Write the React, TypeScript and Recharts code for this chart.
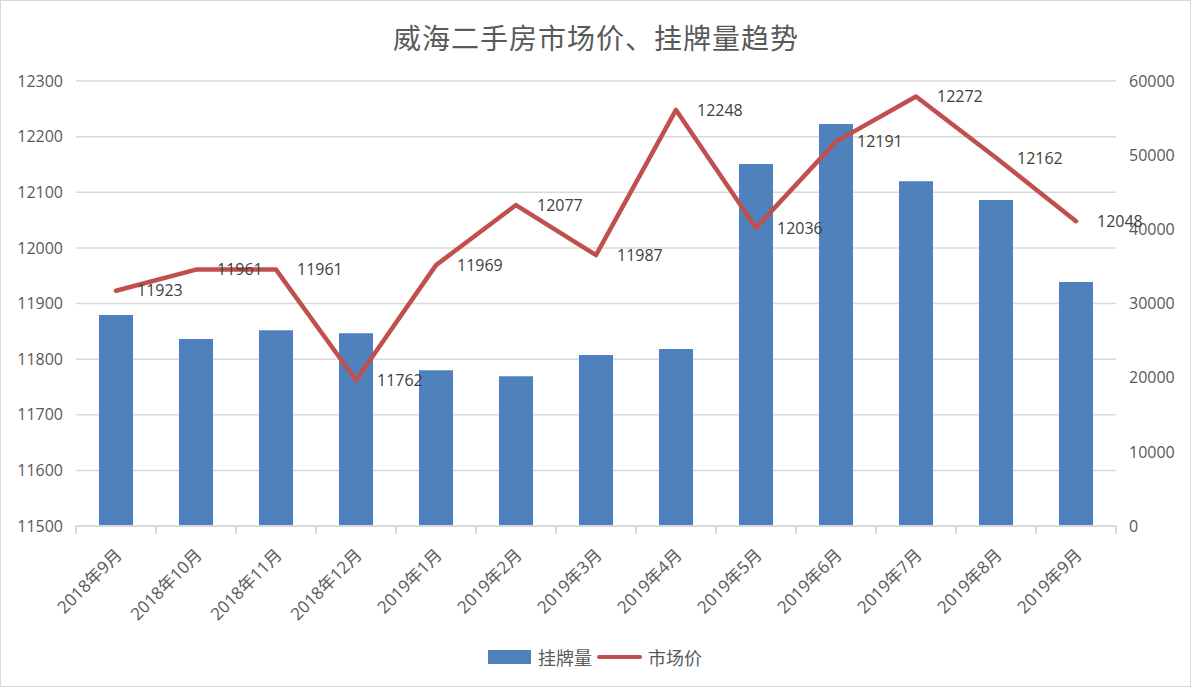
import React from 'react';
import { ComposedChart, Bar, Line, XAxis, YAxis, CartesianGrid, LabelList } from 'recharts';

const categories = [
  '2018年9月', '2018年10月', '2018年11月', '2018年12月', '2019年1月', '2019年2月', '2019年3月',
  '2019年4月', '2019年5月', '2019年6月', '2019年7月', '2019年8月', '2019年9月',
];
const listingCount = [28450, 25200, 26400, 26000, 21000, 20200, 23050, 23850, 48800, 54200, 46500, 43950, 32900];
const marketPrice = [11923, 11961, 11961, 11762, 11969, 12077, 11987, 12248, 12036, 12191, 12272, 12162, 12048];
const priceTicks = [11500, 11600, 11700, 11800, 11900, 12000, 12100, 12200, 12300];
const countTicks = [0, 10000, 20000, 30000, 40000, 50000, 60000];

const title = '威海二手房市场价、挂牌量趋势';
const barName = '挂牌量';
const lineName = '市场价';

const data = categories.map((c, i) => ({ month: c, count: listingCount[i], price: marketPrice[i] }));

const NUM_FONT = "'Open Sans', 'Noto Sans CJK SC', sans-serif";
const CJK_FONT = "'Noto Sans CJK SC', 'Open Sans', sans-serif";
const AXIS_COLOR = '#595959';
const GRID_COLOR = '#D9D9D9';
const BAR_COLOR = '#4F81BD';
const LINE_COLOR = '#C0504D';

const XTick = (props: any) => {
  const { x, y, payload, index, width, visibleTicksCount } = props;
  const half = width && visibleTicksCount ? width / visibleTicksCount / 2 : 40;
  const last = index === (visibleTicksCount ?? 13) - 1;
  return (
    <g>
      <line x1={x - half} x2={x - half} y1={y} y2={y + 8} stroke={GRID_COLOR} strokeWidth={2} />
      {last && <line x1={x + half} x2={x + half} y1={y} y2={y + 8} stroke={GRID_COLOR} strokeWidth={2} />}
      <text
        x={x + 7}
        y={y + 30}
        transform={`rotate(-45, ${x + 7}, ${y + 30})`}
        textAnchor="end"
        fill={AXIS_COLOR}
        fontSize={17}
        fontFamily={NUM_FONT}
      >
        {payload.value}
      </text>
    </g>
  );
};

const PriceLabel = (props: any) => {
  const px = props.x ?? props.viewBox?.x;
  const py = props.y ?? props.viewBox?.y;
  if (px == null || py == null) return null;
  return (
    <text x={px + 21} y={py} dy="0.36em" fill="#404040" fontSize={16} fontFamily={NUM_FONT} textAnchor="start">
      {props.value}
    </text>
  );
};

export default function App() {
  return (
    <div
      style={{
        position: 'absolute',
        left: 0,
        top: 0,
        width: 1192,
        height: 688,
        background: '#fff',
      }}
    >
      <div
        style={{
          position: 'absolute',
          left: 0,
          top: 0,
          width: 1191,
          height: 687,
          border: '1px solid #D9D9D9',
          boxSizing: 'border-box',
        }}
      />
      <div
        style={{
          position: 'absolute',
          left: 0,
          top: 18,
          width: 1192,
          textAlign: 'center',
          fontFamily: CJK_FONT,
          fontSize: 28,
          letterSpacing: 1,
          color: AXIS_COLOR,
          lineHeight: '38px',
        }}
      >
        {title}
      </div>
      <div style={{ position: 'absolute', left: 0, top: 0 }}>
        <ComposedChart width={1192} height={688} data={data} margin={{ top: 81, right: 0, left: 0, bottom: 0 }}>
          <CartesianGrid yAxisId="left" vertical={false} stroke={GRID_COLOR} strokeWidth={1.5} />
          <XAxis
            dataKey="month"
            height={162}
            interval={0}
            axisLine={{ stroke: GRID_COLOR, strokeWidth: 2 }}
            tickLine={false}
            tickSize={0}
            tickMargin={0}
            tick={<XTick />}
          />
          <YAxis
            yAxisId="left"
            orientation="left"
            width={76}
            domain={[11500, 12300]}
            ticks={priceTicks}
            interval={0}
            axisLine={false}
            tickLine={false}
            tickSize={0}
            tickMargin={13}
            tick={{ fill: AXIS_COLOR, fontSize: 16, fontFamily: NUM_FONT }}
          />
          <YAxis
            yAxisId="right"
            orientation="right"
            width={76}
            domain={[0, 60000]}
            ticks={countTicks}
            interval={0}
            axisLine={false}
            tickLine={false}
            tickSize={0}
            tickMargin={13}
            tick={{ fill: AXIS_COLOR, fontSize: 16, fontFamily: NUM_FONT, textAnchor: 'start' }}
          />
          <Bar yAxisId="right" dataKey="count" name={barName} fill={BAR_COLOR} barSize={34} isAnimationActive={false} />
          <Line
            yAxisId="left"
            dataKey="price"
            name={lineName}
            type="linear"
            stroke={LINE_COLOR}
            strokeWidth={4.5}
            strokeLinecap="round"
            strokeLinejoin="round"
            dot={false}
            activeDot={false}
            isAnimationActive={false}
          >
            <LabelList dataKey="price" content={<PriceLabel />} />
          </Line>
        </ComposedChart>
      </div>
      <div
        style={{
          position: 'absolute',
          left: 488,
          top: 645,
          height: 24,
          display: 'flex',
          alignItems: 'center',
          fontFamily: CJK_FONT,
          fontSize: 18,
          color: AXIS_COLOR,
          whiteSpace: 'nowrap',
        }}
      >
        <span style={{ display: 'inline-block', width: 43, height: 14, background: BAR_COLOR }} />
        <span style={{ marginLeft: 7, lineHeight: '24px' }}>{barName}</span>
        <span
          style={{
            display: 'inline-block',
            width: 45,
            height: 4.5,
            borderRadius: 3,
            background: LINE_COLOR,
            marginLeft: 5,
          }}
        />
        <span style={{ marginLeft: 6, lineHeight: '24px' }}>{lineName}</span>
      </div>
    </div>
  );
}
